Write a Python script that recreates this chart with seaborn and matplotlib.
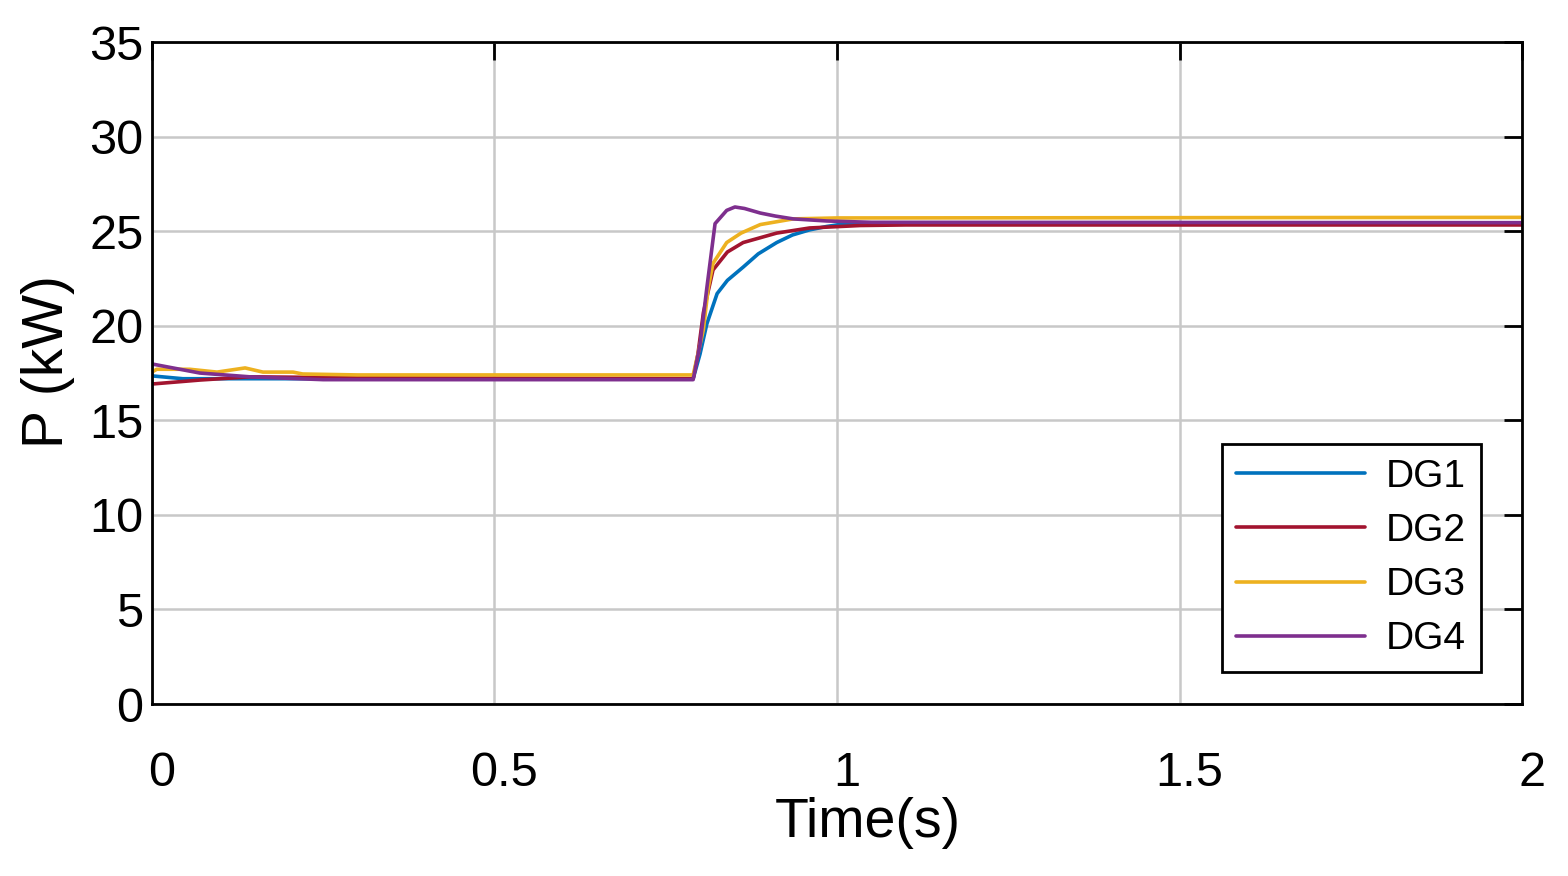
import numpy as np
import pandas as pd
import matplotlib
matplotlib.use("Agg")
import matplotlib.pyplot as plt
import matplotlib.transforms as mtransforms
import seaborn as sns

# ── data ─────────────────────────────────────────────────────────────────────
t_dg1 = [0, 0.045, 0.3, 0.79, 0.80, 0.81, 0.825, 0.84, 0.863, 0.885, 0.912,
         0.935, 0.96, 0.985, 1.009, 1.05, 1.2, 2.0]
p_dg1 = [17.35, 17.2, 17.2, 17.2, 18.5, 20.1, 21.7, 22.4, 23.1, 23.8, 24.4,
         24.8, 25.07, 25.25, 25.38, 25.43, 25.43, 25.43]

t_dg2 = [0, 0.07, 0.143, 0.3, 0.79, 0.797, 0.805, 0.819, 0.84, 0.863, 0.912,
         0.96, 1.034, 1.1, 2.0]
p_dg2 = [16.92, 17.13, 17.3, 17.25, 17.2, 18.5, 20.7, 22.95, 23.9, 24.4, 24.9,
         25.17, 25.3, 25.33, 25.33]

t_dg3 = [0, 0.007, 0.055, 0.095, 0.136, 0.162, 0.206, 0.22, 0.3, 0.79, 0.797,
         0.805, 0.812, 0.819, 0.839, 0.86, 0.888, 0.936, 1.0, 2.0]
p_dg3 = [17.55, 17.7, 17.7, 17.55, 17.77, 17.55, 17.55, 17.45, 17.4, 17.4, 18.5,
         19.8, 22.0, 23.3, 24.4, 24.9, 25.35, 25.65, 25.7, 25.73]

t_dg4 = [0, 0.07, 0.143, 0.25, 0.79, 0.80, 0.81, 0.822, 0.839, 0.851, 0.865,
         0.888, 0.91, 0.936, 0.985, 1.05, 2.0]
p_dg4 = [17.98, 17.5, 17.3, 17.15, 17.15, 19.0, 22.0, 25.4, 26.1, 26.28, 26.2,
         25.96, 25.8, 25.65, 25.54, 25.47, 25.45]

series = ["DG1", "DG2", "DG3", "DG4"]
COLORS = {"DG1": "#0072BD", "DG2": "#A2142F", "DG3": "#EDB120", "DG4": "#7E2F8E"}

x_ticks = [0, 0.5, 1, 1.5, 2]
x_ticklabels = ["0", "0.5", "1", "1.5", "2"]
y_ticks = [0, 5, 10, 15, 20, 25, 30, 35]

# ── style ────────────────────────────────────────────────────────────────────
sns.set_theme(style="white")
plt.rcParams["font.family"] = ["Liberation Sans", "DejaVu Sans"]
plt.rcParams.update({"text.color": "black", "axes.labelcolor": "black",
                     "xtick.color": "black", "ytick.color": "black"})

fig = plt.figure(figsize=(15.68, 8.76), dpi=100)
ax = fig.add_axes([0.0969, 0.1963, 0.8738, 0.7557])

data = [(t_dg1, p_dg1), (t_dg2, p_dg2), (t_dg3, p_dg3), (t_dg4, p_dg4)]
for name, (t, p) in zip(series, data):
    sns.lineplot(x=t, y=p, ax=ax, color=COLORS[name], label=name,
                 linewidth=2.6, sort=False, estimator=None)

ax.set_xlim(0, 2)
ax.set_ylim(0, 35)
ax.set_xticks(x_ticks)
ax.set_xticklabels(x_ticklabels)
ax.set_yticks(y_ticks)
ax.grid(True, color="#c8c8c8", linewidth=1.8)
ax.set_axisbelow(True)

for s in ax.spines.values():
    s.set_color("black")
    s.set_linewidth(2.0)

ax.tick_params(axis="both", direction="in", length=13, width=2, color="black",
               top=True, right=True, labelsize=35)
ax.tick_params(axis="x", pad=34)
ax.tick_params(axis="y", pad=6)

# shift x tick labels slightly right, like the reference
offset = mtransforms.ScaledTranslation(10 / 100, 0, fig.dpi_scale_trans)
for lbl in ax.get_xticklabels():
    lbl.set_transform(lbl.get_transform() + offset)

ax.set_xlabel("Time(s)", fontsize=40)
ax.xaxis.set_label_coords(0.5226, -0.14)
ax.set_ylabel("P (kW)", fontsize=41)
ax.yaxis.set_label_coords(-0.056, 0.517)

leg = ax.legend(loc="lower right", bbox_to_anchor=(0.970, 0.048), fontsize=28,
                frameon=True, fancybox=False, framealpha=1, handlelength=3.3,
                handletextpad=0.55, labelspacing=0.47, borderpad=0.38,
                borderaxespad=0)
leg.get_frame().set_edgecolor("black")
leg.get_frame().set_linewidth(2.0)
for line in leg.get_lines():
    line.set_linewidth(2.6)

fig.savefig("out.png", dpi=100)
